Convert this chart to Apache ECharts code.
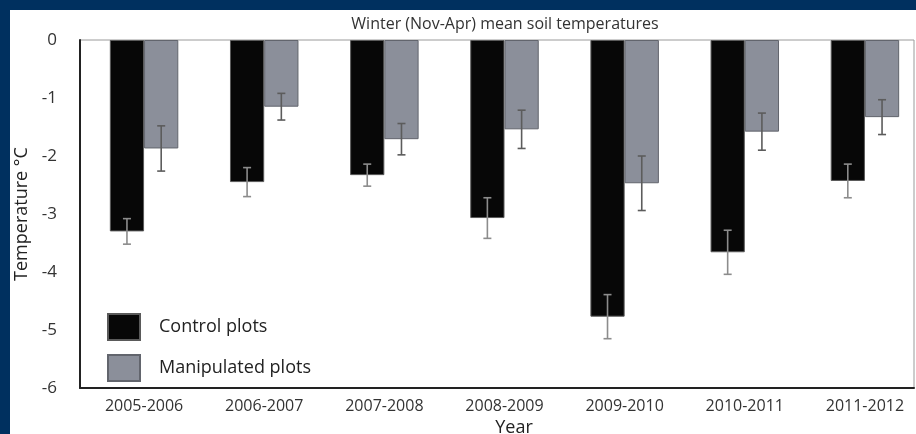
<!DOCTYPE html>
<html>
<head>
<meta charset="utf-8">
<script src="https://cdn.jsdelivr.net/npm/echarts@6/dist/echarts.min.js"></script>
<style>
  html, body { margin: 0; padding: 0; }
  body { width: 916px; height: 434px; background: #00305f; position: relative; overflow: hidden; }
  #panel { position: absolute; left: 10px; top: 10px; right: 0; bottom: 0; background: #ffffff; }
  #chart { position: absolute; left: 0; top: 0; width: 940px; height: 434px; }
</style>
</head>
<body>
<div id="panel"></div>
<div id="chart"></div>
<script>
// Winter seasons (Nov-Apr)
const seasons = ['2005-2006', '2006-2007', '2007-2008', '2008-2009', '2009-2010', '2010-2011', '2011-2012'];
// Mean soil temperature (°C) and standard error, control plots
const controlMean = [-3.30, -2.45, -2.33, -3.07, -4.77, -3.66, -2.43];
const controlErr  = [0.22, 0.25, 0.19, 0.35, 0.38, 0.38, 0.29];
// Mean soil temperature (°C) and standard error, manipulated plots
const manipMean = [-1.87, -1.15, -1.71, -1.54, -2.47, -1.58, -1.33];
const manipErr  = [0.39, 0.23, 0.27, 0.33, 0.47, 0.32, 0.30];
// Temperature axis ticks
const yTicks = [0, -1, -2, -3, -4, -5, -6];

const FONT = 'Open Sans';
const GAP = 0.43; // category gap fraction

function errorBars(means, errs, side, color) {
  return {
    type: 'custom',
    xAxisIndex: 0,
    yAxisIndex: 0,
    z: 5,
    silent: true,
    data: means.map((m, i) => [i, m, errs[i]]),
    renderItem: function (params, api) {
      const i = api.value(0), m = api.value(1), e = api.value(2);
      const band = api.size([1, 0])[0];
      const bw = band * (1 - GAP) / 2;
      const top = api.coord([i, m + e]);
      const bot = api.coord([i, m - e]);
      const x = top[0] + side * bw / 2;
      const cap = 4;
      const style = { stroke: color, lineWidth: 1.6 };
      return {
        type: 'group',
        children: [
          { type: 'line', shape: { x1: x, y1: top[1], x2: x, y2: bot[1] }, style: style },
          { type: 'line', shape: { x1: x - cap, y1: top[1], x2: x + cap, y2: top[1] }, style: style },
          { type: 'line', shape: { x1: x - cap, y1: bot[1], x2: x + cap, y2: bot[1] }, style: style }
        ]
      };
    }
  };
}

const chart = echarts.init(document.getElementById('chart'), null, { renderer: 'canvas' });
chart.setOption({
  backgroundColor: 'transparent',
  animation: false,
  textStyle: { fontFamily: FONT },
  title: [
    {
      text: 'Winter (Nov-Apr) mean soil temperatures',
      left: 500, top: 11, textAlign: 'center',
      textStyle: { fontFamily: FONT, fontSize: 16, fontWeight: 'normal', color: '#333' }
    },
    {
      text: 'Year',
      left: 509, top: 414, textAlign: 'center',
      textStyle: { fontFamily: FONT, fontSize: 18, fontWeight: 'normal', color: '#222' }
    }
  ],
  legend: {
    orient: 'vertical',
    left: 102, top: 308,
    itemWidth: 32, itemHeight: 26, itemGap: 13,
    icon: 'rect',
    data: ['Control plots', 'Manipulated plots'],
    textStyle: { fontFamily: FONT, fontSize: 18, color: '#222', padding: [0, 0, 0, 14] }
  },
  grid: [
    { left: 84, width: 841, top: 40, bottom: 46 },
    { left: 80, width: 834, top: 40, bottom: 46, show: true, borderColor: '#9a9a9a', borderWidth: 1, backgroundColor: 'transparent' }
  ],
  xAxis: [
    {
      type: 'category', gridIndex: 0, data: seasons,
      axisLine: { show: false }, axisTick: { show: false },
      axisLabel: { fontFamily: FONT, fontSize: 16, color: '#333', margin: 10, interval: 0 }
    },
    {
      type: 'value', gridIndex: 1, min: 0, max: 1,
      axisLine: { show: true, onZero: false, lineStyle: { color: '#222', width: 2 } },
      axisTick: { show: false }, axisLabel: { show: false }, splitLine: { show: false }
    }
  ],
  yAxis: [
    { type: 'value', gridIndex: 0, min: -6, max: 0, interval: 1, show: false, splitLine: { show: false } },
    {
      type: 'value', gridIndex: 1, min: -6, max: 0, interval: 1,
      name: 'Temperature °C', nameLocation: 'middle', nameGap: 46, nameRotate: 90,
      nameTextStyle: { fontFamily: FONT, fontSize: 18, color: '#222' },
      axisLine: { show: true, onZero: false, lineStyle: { color: '#222', width: 2 } },
      axisTick: { show: false }, splitLine: { show: false },
      axisLabel: {
        fontFamily: FONT, fontSize: 17, color: '#333', margin: 23,
        formatter: v => (yTicks.indexOf(v) >= 0 ? String(v) : '')
      }
    }
  ],
  series: [
    {
      name: 'Control plots', type: 'bar', xAxisIndex: 0, yAxisIndex: 0,
      data: controlMean, barGap: '0%', barCategoryGap: (GAP * 100) + '%',
      itemStyle: { color: '#070707', borderColor: '#5a5a5a', borderWidth: 1 }
    },
    {
      name: 'Manipulated plots', type: 'bar', xAxisIndex: 0, yAxisIndex: 0,
      data: manipMean, barGap: '0%', barCategoryGap: (GAP * 100) + '%',
      itemStyle: { color: '#8b8f9a', borderColor: '#62656d', borderWidth: 1 }
    },
    errorBars(controlMean, controlErr, -1, '#8c8c8c'),
    errorBars(manipMean, manipErr, 1, '#5c5c5c')
  ]
});
</script>
</body>
</html>
